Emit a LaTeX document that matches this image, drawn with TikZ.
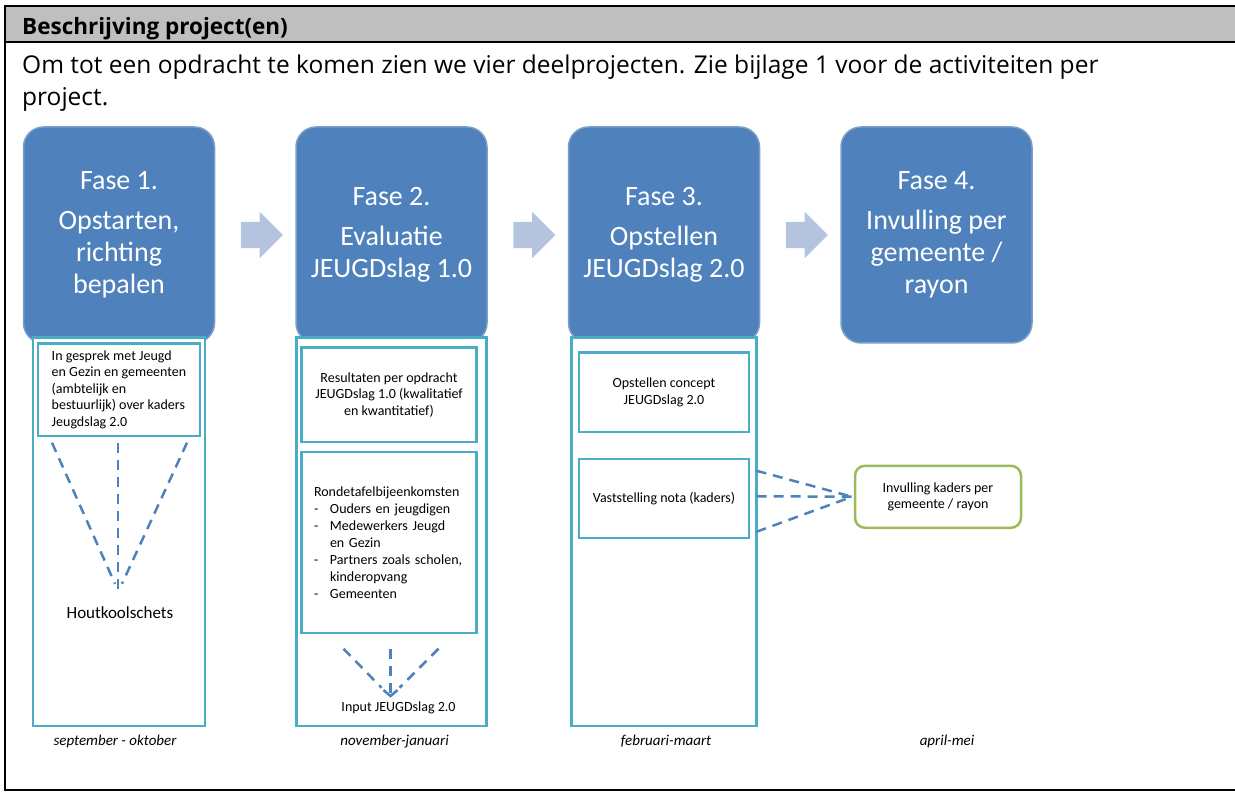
\documentclass[tikz,border=0pt]{standalone}
\usepackage{fontspec}
\setmainfont{Carlito}
\newfontfamily\docfont{Open Sans}
\usetikzlibrary{shapes,arrows.meta,positioning,calc}

\definecolor{phaseblue}{HTML}{4F81BD}
\definecolor{phaseedge}{HTML}{7C9ECB}
\definecolor{arrowgrey}{HTML}{B4C4DF}
\definecolor{lanecyan}{HTML}{4BACC6}
\definecolor{resultgreen}{HTML}{9BBB59}
\definecolor{headergrey}{HTML}{BFBFBF}

\begin{document}
\begin{tikzpicture}[
    x=1pt, y=-1pt,
    node distance=80pt,
    phase/.style={rectangle, draw=phaseedge, line width=1.5pt, fill=phaseblue, rounded corners=20pt, minimum width=191pt, minimum height=216pt, text=white, align=center, font=\fontsize{28}{32}\selectfont},
    phasearrow/.style={single arrow, fill=arrowgrey, minimum height=42pt, inner xsep=0pt, inner ysep=13pt, single arrow head extend=10pt},
    lane/.style={rectangle, draw=lanecyan, line width=2.5pt, fill=white, inner sep=0pt, outer sep=0pt, minimum height=388pt},
    task/.style={rectangle, draw=lanecyan, line width=2.5pt, fill=white, align=center, inner sep=0pt, outer sep=0pt, font=\fontsize{14}{16.5}\selectfont},
    result/.style={rectangle, draw=resultgreen, line width=2.5pt, rounded corners=10pt, align=center, outer sep=0pt, minimum width=166pt, minimum height=62pt, font=\fontsize{14}{16.5}\selectfont},
    month/.style={font=\fontsize{15}{18}\selectfont\itshape, inner sep=0pt},
    dashlink/.style={draw=phaseblue, line width=2.5pt, dash pattern=on 10pt off 7pt},
    title/.style={font=\docfont\bfseries\fontsize{22.5}{26}\selectfont, anchor=base west, inner sep=0pt},
    intro/.style={font=\docfont\fontsize{24.5}{30}\selectfont, anchor=base west, inner sep=0pt}
]
\useasboundingbox (0,0) rectangle (1235,794);

% Frame
\fill[headergrey] (5,6) rectangle (1240,42);
\draw[line width=2.5pt] (1240,6) -- (5,6) -- (5,790) -- (1240,790);
\draw[line width=2pt] (5,42) -- (1240,42);

% Title
\node[title] (title) at (22,35) {Beschrijving project(en)};
\node[intro] (intro) at (22,74) {Om tot een opdracht te komen zien we vier deelprojecten. Zie bijlage 1 voor de activiteiten per};
\node[intro] (intro2) at (22,106) {project.};

% Phases
\node[phase] (fase1) at (119,235) {Fase 1.\\[8pt]Opstarten,\\richting\\bepalen};
\node[phase, right=of fase1] (fase2) {Fase 2.\\[8pt]Evaluatie\\JEUGDslag 1.0};
\node[phase, right=of fase2] (fase3) {Fase 3.\\[8pt]Opstellen\\JEUGDslag 2.0};
\node[phase, right=of fase3] (fase4) {Fase 4.\\[8pt]Invulling per\\gemeente /\\rayon};

\node[phasearrow] (arrow1) at ($(fase1.east)!0.5!(fase2.west)$) {};
\node[phasearrow] (arrow2) at ($(fase2.east)!0.5!(fase3.west)$) {};
\node[phasearrow] (arrow3) at ($(fase3.east)!0.5!(fase4.west)$) {};

% Lanes
\node[lane, below=-6pt of fase1, minimum width=172pt] (lane1) {};
\node[lane, below=-6pt of fase2, minimum width=190pt] (lane2) {};
\node[lane, below=-6pt of fase3, minimum width=185pt] (lane3) {};

% Fase 1
\node[task, below=6pt of lane1.north, minimum width=162pt, minimum height=92pt, align=left] (gesprek) {In gesprek met Jeugd\\en Gezin en gemeenten\\(ambtelijk en\\bestuurlijk) over kaders\\Jeugdslag 2.0};
\coordinate (schetspunt) at ($(gesprek.south)+(-1,158)$);
\node[font=\fontsize{17}{20}\selectfont, inner sep=0pt, below=13pt of schetspunt, xshift=2pt] (schets) {Houtkoolschets};

% Fase 2
\node[task, below=10pt of lane2.north, xshift=-2.5pt, minimum width=175pt, minimum height=94pt] (resultaten) {Resultaten per opdracht\\JEUGDslag 1.0 (kwalitatief\\en kwantitatief)};
\node[task, below=10pt of resultaten, minimum width=175pt, minimum height=181pt, text width=150pt, align=left, font=\fontsize{14}{17}\selectfont] (rondetafel) {Rondetafelbijeenkomsten\\
    \makebox[16pt][l]{-}Ouders en jeugdigen\\
    \makebox[16pt][l]{-}Medewerkers Jeugd\\
    \hspace*{16pt}en Gezin\\
    \makebox[16pt][l]{-}Partners zoals scholen,\\
    \hspace*{16pt}kinderopvang\\
    \makebox[16pt][l]{-}Gemeenten};
\coordinate (inputpunt) at ($(rondetafel.south)+(1.5,65)$);
\node[font=\fontsize{14}{16.5}\selectfont, inner sep=0pt, below=4pt of inputpunt, xshift=8pt] (input) {Input JEUGDslag 2.0};

% Fase 3
\node[task, below=15pt of lane3.north, minimum width=170pt, minimum height=79pt] (concept) {Opstellen concept\\JEUGDslag 2.0};
\node[task, below=27pt of concept, minimum width=170pt, minimum height=79pt] (vaststelling) {Vaststelling nota (kaders)};

% Fase 4
\node[result, right=106pt of vaststelling, yshift=1.5pt] (invulling) {Invulling kaders per\\gemeente / rayon};
\coordinate (kaderpunt) at ($(invulling.west)+(-3,0)$);

% Connect lines
\draw[dashlink] ($(gesprek.south west)+(14,7)$) -- ($(schetspunt)+(-3,-10)$);
\draw[dashlink] ($(gesprek.south)+(-1,7)$) -- (schetspunt);
\draw[dashlink] ($(gesprek.south east)+(-13,7)$) -- ($(schetspunt)+(4,-10)$);

\draw[dashlink] ($(rondetafel.south)+(-45.5,16)$) -- ($(inputpunt)+(-9,-10)$);
\draw[dashlink, -{Straight Barb[length=6pt,width=14pt]}] ($(rondetafel.south)+(1.5,16)$) -- (inputpunt);
\draw[dashlink] ($(rondetafel.south)+(49.5,16)$) -- ($(inputpunt)+(9,-10)$);

\draw[dashlink] ($(vaststelling.north -| lane3.east)+(0,12)$) -- (kaderpunt);
\draw[dashlink] ($(vaststelling.center -| lane3.east)+(0,-2)$) -- (kaderpunt);
\draw[dashlink] ($(vaststelling.south -| lane3.east)+(0,-6)$) -- (kaderpunt);

% Months
\node[month, below=9pt of lane1, xshift=-4pt] (maand1) {september - oktober};
\node[month, below=9pt of lane2, xshift=3pt] (maand2) {november-januari};
\node[month, below=9pt of lane3, xshift=2pt] (maand3) {februari-maart};
\node[month, xshift=9pt] (maand4) at (maand3 -| invulling) {april-mei};

\end{tikzpicture}
\end{document}
